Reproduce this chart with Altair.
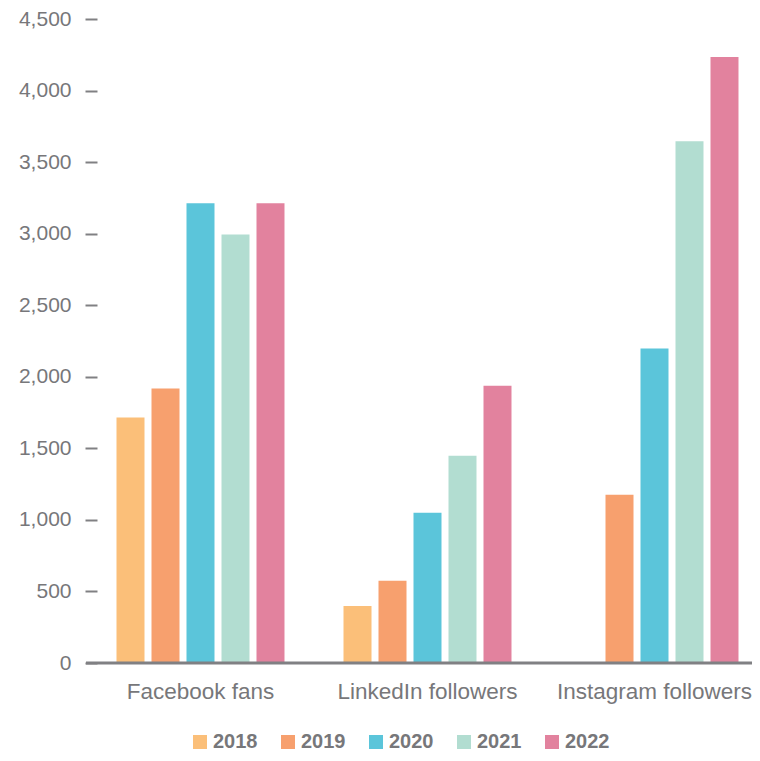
import altair as alt
import pandas as pd

categories = ["Facebook fans", "LinkedIn followers", "Instagram followers"]
years = ["2018", "2019", "2020", "2021", "2022"]
facebook = [1715, 1918, 3212, 2995, 3212]
linkedin = [399, 574, 1050, 1449, 1938]
instagram = [None, 1176, 2197, 3646, 4234]
colors = ["#FBBF79", "#F7A06E", "#5BC5DA", "#B2DDD1", "#E2829E"]
y_ticks = [0, 500, 1000, 1500, 2000, 2500, 3000, 3500, 4000, 4500]

rows = []
for cat, vals in zip(categories, [facebook, linkedin, instagram]):
    for y, v in zip(years, vals):
        if v is not None:
            rows.append({"category": cat, "year": y, "value": v})
df = pd.DataFrame(rows)

FONT = "Liberation Sans"
GRAY = "#77777a"
W, H = 655, 644

bars = alt.Chart(df).mark_bar().encode(
    x=alt.X("category:N", sort=categories,
            scale=alt.Scale(range=[-10, 671], paddingInner=0, paddingOuter=0),
            axis=alt.Axis(title=None, labelAngle=0, domain=False, ticks=False,
                          labelPadding=17, labelFontSize=22.5, labelColor=GRAY,
                          labelFont=FONT, labelLimit=0)),
    xOffset=alt.XOffset("year:N", sort=years,
                        scale=alt.Scale(paddingInner=0.2, paddingOuter=0.843)),
    y=alt.Y("value:Q", scale=alt.Scale(domain=[0, 4500], nice=False),
            axis=alt.Axis(title=None, values=y_ticks, format=",.0f",
                          grid=False, domain=False, tickSize=12, tickWidth=2,
                          tickColor="#808083", labelPadding=14, labelFontSize=21,
                          labelColor=GRAY, labelFont=FONT)),
    color=alt.Color("year:N", sort=years,
                    scale=alt.Scale(domain=years, range=colors),
                    legend=alt.Legend(title=None, orient="none", direction="horizontal",
                                      legendX=93, legendY=713,
                                      symbolType="square", symbolSize=196,
                                      symbolStrokeWidth=0, symbolOpacity=1,
                                      labelFontSize=20, labelFontWeight="bold",
                                      labelColor=GRAY, labelFont=FONT, labelLimit=0,
                                      columnPadding=20, labelOffset=3)),
)

base = alt.Chart(pd.DataFrame({"v": [0]})).mark_rule(
    color="#808083", strokeWidth=3
).encode(y=alt.Y("v:Q"), x=alt.value(-11), x2=alt.value(W + 10))

chart = alt.layer(bars, base).properties(
    width=W, height=H,
    autosize=alt.AutoSizeParams(type="none"),
    padding={"left": 89, "top": 11, "right": 0, "bottom": 90},
).configure_view(stroke=None)

chart.save("out.html", embed_options={"renderer": "svg", "actions": False})
